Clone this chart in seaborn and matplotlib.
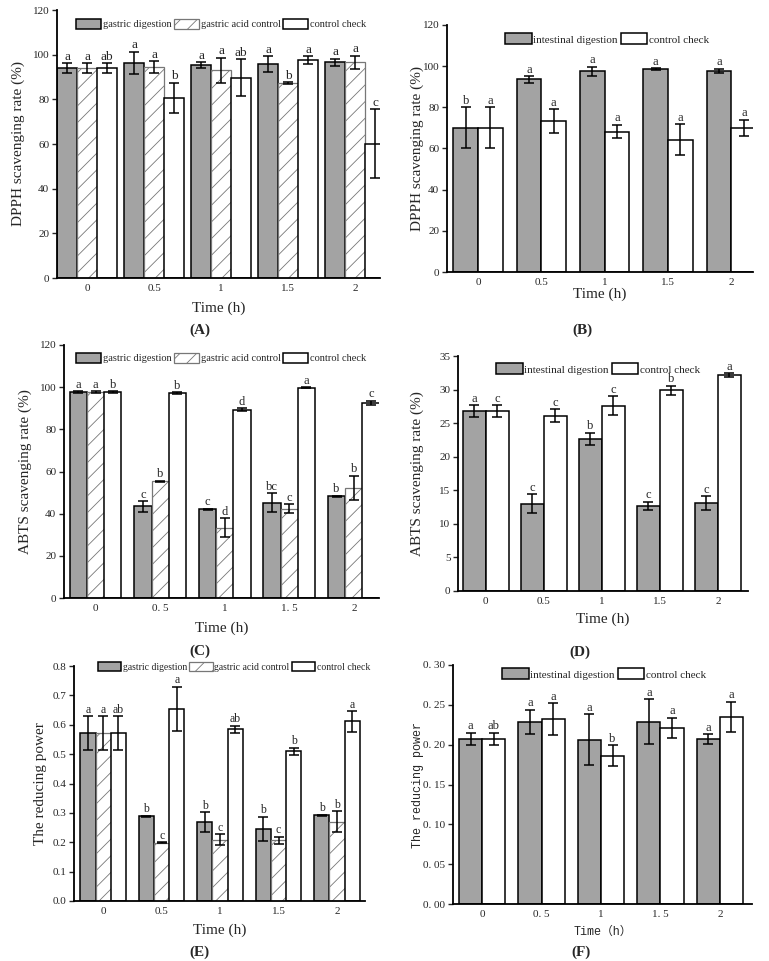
import matplotlib
matplotlib.use("Agg")
import pandas as pd
import matplotlib.pyplot as plt
import seaborn as sns

sns.set_style("ticks")
plt.rcParams["font.family"] = ["Liberation Serif", "Noto Sans CJK SC", "DejaVu Serif"]
plt.rcParams["hatch.linewidth"] = 0.6

times = ["0", "0.5", "1", "1.5", "2"]
times_cn = ["0", "0. 5", "1", "1. 5", "2"]

# (A) DPPH, gastric phase
dpph_gd = [94.0, 96.4, 95.4, 95.8, 96.6]
dpph_gd_err = [2.2, 5.0, 1.2, 3.6, 1.6]
dpph_gd_let = ["a", "a", "a", "a", "a"]
dpph_gac = [94.0, 94.4, 93.1, 87.3, 96.6]
dpph_gac_err = [2.2, 2.7, 5.6, 0.4, 3.0]
dpph_gac_let = ["a", "a", "a", "b", "a"]
dpph_cc = [94.0, 80.7, 89.7, 97.6, 60.2]
dpph_cc_err = [2.2, 6.7, 8.3, 1.8, 15.5]
dpph_cc_let = ["ab", "b", "ab", "a", "c"]

# (B) DPPH, intestinal phase
dpph_id = [70.0, 93.6, 97.5, 98.4, 97.7]
dpph_id_err = [10.0, 1.6, 2.2, 0.5, 1.0]
dpph_id_let = ["b", "a", "a", "a", "a"]
dpph_icc = [70.0, 73.4, 68.2, 64.2, 70.0]
dpph_icc_err = [10.0, 5.8, 3.3, 7.6, 4.0]
dpph_icc_let = ["a", "a", "a", "a", "a"]

# (C) ABTS, gastric phase
abts_gd = [97.7, 43.5, 42.0, 45.2, 48.3]
abts_gd_err = [0.3, 2.5, 0.4, 4.5, 0.3]
abts_gd_let = ["a", "c", "c", "bc", "b"]
abts_gac = [97.7, 55.3, 33.4, 42.4, 52.2]
abts_gac_err = [0.3, 0.4, 4.4, 2.2, 5.8]
abts_gac_let = ["a", "b", "d", "c", "b"]
abts_cc = [97.7, 97.1, 89.3, 99.8, 92.5]
abts_cc_err = [0.3, 0.5, 0.8, 0.1, 1.0]
abts_cc_let = ["b", "b", "d", "a", "c"]

# (D) ABTS, intestinal phase
abts_id = [26.8, 13.0, 22.7, 12.7, 13.1]
abts_id_err = [0.9, 1.4, 0.9, 0.6, 1.0]
abts_id_let = ["a", "c", "b", "c", "c"]
abts_icc = [26.8, 26.1, 27.6, 29.9, 32.1]
abts_icc_err = [0.9, 1.0, 1.4, 0.7, 0.3]
abts_icc_let = ["c", "c", "c", "b", "a"]

# (E) reducing power, gastric phase
rp_gd = [0.572, 0.288, 0.268, 0.245, 0.292]
rp_gd_err = [0.058, 0.002, 0.034, 0.042, 0.002]
rp_gd_let = ["a", "b", "b", "b", "b"]
rp_gac = [0.572, 0.198, 0.209, 0.206, 0.270]
rp_gac_err = [0.058, 0.002, 0.018, 0.013, 0.035]
rp_gac_let = ["a", "c", "c", "c", "b"]
rp_cc = [0.572, 0.655, 0.585, 0.510, 0.612]
rp_cc_err = [0.058, 0.075, 0.012, 0.012, 0.035]
rp_cc_let = ["ab", "a", "ab", "b", "a"]

# (F) reducing power, intestinal phase
rp_id = [0.207, 0.229, 0.206, 0.229, 0.207]
rp_id_err = [0.008, 0.015, 0.032, 0.028, 0.006]
rp_id_let = ["a", "a", "a", "a", "a"]
rp_icc = [0.207, 0.232, 0.186, 0.221, 0.235]
rp_icc_err = [0.008, 0.020, 0.013, 0.013, 0.019]
rp_icc_let = ["ab", "a", "b", "a", "a"]

gastric_names = ["gastric digestion", "gastric acid control", "control check"]
intestinal_names = ["intestinal digestion", "control check"]

GRIS = "#a3a3a3"
W, H = 769, 961
fig = plt.figure(figsize=(W / 100, H / 100), dpi=100)


def ejes(l, r, t, b):
    return fig.add_axes([l / W, 1 - b / H, (r - l) / W, (b - t) / H])


def panel(ax, rect, nombres, valores, errores, letras, ancho, xlim, ylim, yticks,
          yticklabels, xticklabels, ylabel, ley, tam_ley=8, tam_let=9,
          fuente_lab=None, tam_lab=11, xlabel="Time (h)", pos_ylabel=None, pos_xlabel=None):
    filas = []
    for nombre, vals in zip(nombres, valores):
        for t, v in zip(times, vals):
            filas.append({"time": t, "group": nombre, "value": v})
    df = pd.DataFrame(filas)
    colores = {n: "white" for n in nombres}
    colores[nombres[0]] = GRIS
    sns.barplot(data=df, x="time", y="value", hue="group", hue_order=nombres,
                palette=colores, width=ancho, errorbar=None, saturation=1,
                edgecolor="black", linewidth=1.1, legend=False, ax=ax)
    barras = list(ax.containers)
    for k, cont in enumerate(barras):
        for p in cont:
            if nombres[k] == "gastric acid control":
                p.set_hatch("//")
                p.set_edgecolor("#777777")
                p.set_linewidth(0.9)
        xs = [p.get_x() + p.get_width() / 2 for p in cont]
        ax.errorbar(xs, valores[k], yerr=errores[k], fmt="none", ecolor="black",
                    elinewidth=1.1, capsize=3.5, capthick=1.1)
        for x, v, e, s in zip(xs, valores[k], errores[k], letras[k]):
            ax.annotate(s, (x, v + e), xytext=(0, 0.3), textcoords="offset points",
                        ha="center", va="bottom", fontsize=tam_let)
    ax.set_xlim(*xlim)
    ax.set_ylim(*ylim)
    ax.set_yticks(yticks)
    ax.set_yticklabels(yticklabels, fontsize=8)
    ax.set_xticks(range(len(times)))
    ax.set_xticklabels(xticklabels, fontsize=8)
    ax.tick_params(axis="y", direction="out", length=3.5, width=1, pad=2)
    ax.tick_params(axis="x", length=0, pad=4)
    sns.despine(ax=ax)
    for s in ["left", "bottom"]:
        ax.spines[s].set_linewidth(1.3)
        ax.spines[s].set_color("black")
    l, r, t, b = rect
    ax.set_ylabel(ylabel, fontsize=tam_lab, family=fuente_lab)
    ax.set_xlabel(xlabel, fontsize=tam_lab, family=fuente_lab)
    ax.yaxis.set_label_coords((pos_ylabel - l) / (r - l), 0.5)
    ax.xaxis.set_label_coords(0.5, (b - pos_xlabel) / (b - t))
    ax.legend(handles=[c.patches[0] for c in barras], labels=nombres, ncol=len(nombres),
              frameon=False, fontsize=tam_ley, handlelength=2.4, handleheight=1.1,
              handletextpad=0.15, columnspacing=0.25, borderaxespad=0, borderpad=0,
              loc="center", bbox_to_anchor=(ley[0] / W, 1 - ley[1] / H),
              bbox_transform=fig.transFigure)


num = lambda vals, fmt: [fmt.format(v) for v in vals]

rA = (57, 380, 10, 278)
panel(ejes(*rA), rA, gastric_names, [dpph_gd, dpph_gac, dpph_cc],
      [dpph_gd_err, dpph_gac_err, dpph_cc_err], [dpph_gd_let, dpph_gac_let, dpph_cc_let],
      0.9, (-0.45, 4.37), (0, 120), range(0, 121, 20), num(range(0, 121, 20), "{}"),
      times, "DPPH scavenging rate (%)", (221, 24), tam_ley=7.5, tam_let=9.5,
      pos_ylabel=25, pos_xlabel=302)

rB = (447, 753, 25, 272)
panel(ejes(*rB), rB, intestinal_names, [dpph_id, dpph_icc], [dpph_id_err, dpph_icc_err],
      [dpph_id_let, dpph_icc_let], 0.78, (-0.49, 4.34), (0, 120), range(0, 121, 20),
      num(range(0, 121, 20), "{}"), times, "DPPH scavenging rate (%)", (607, 39),
      pos_ylabel=424, pos_xlabel=288)

rC = (64, 379, 345, 598)
panel(ejes(*rC), rC, gastric_names, [abts_gd, abts_gac, abts_cc],
      [abts_gd_err, abts_gac_err, abts_cc_err], [abts_gd_let, abts_gac_let, abts_cc_let],
      0.8, (-0.49, 4.39), (0, 120), range(0, 121, 20), num(range(0, 121, 20), "{}"),
      times_cn, "ABTS scavenging rate (%)", (221, 358), tam_ley=7.5,
      pos_ylabel=32, pos_xlabel=622)

rD = (458, 748, 356, 591)
panel(ejes(*rD), rD, intestinal_names, [abts_id, abts_icc], [abts_id_err, abts_icc_err],
      [abts_id_let, abts_icc_let], 0.8, (-0.48, 4.52), (0, 35), range(0, 36, 5),
      num(range(0, 36, 5), "{}"), times, "ABTS scavenging rate (%)", (598, 369),
      pos_ylabel=424, pos_xlabel=613)

rE = (74, 365, 666, 901)
e_ticks = [i / 10 for i in range(9)]
panel(ejes(*rE), rE, gastric_names, [rp_gd, rp_gac, rp_cc],
      [rp_gd_err, rp_gac_err, rp_cc_err], [rp_gd_let, rp_gac_let, rp_cc_let],
      0.78, (-0.5, 4.48), (0, 0.8), e_ticks, num(e_ticks, "{:.1f}"), times,
      "The reducing power", (234, 667), tam_ley=7, tam_let=8.5,
      pos_ylabel=47, pos_xlabel=924)

rF = (453, 752, 665, 904)
f_ticks = [i / 100 for i in range(0, 31, 5)]
panel(ejes(*rF), rF, intestinal_names, [rp_id, rp_icc], [rp_id_err, rp_icc_err],
      [rp_id_let, rp_icc_let], 0.78, (-0.49, 4.54), (0, 0.30), f_ticks,
      [s.replace(".", ". ") for s in num(f_ticks, "{:.2f}")], times_cn,
      "The reducing power", (604, 674),
      fuente_lab=["Liberation Mono", "Noto Sans CJK SC"], tam_lab=8.5,
      xlabel="Time（h）", pos_ylabel=424, pos_xlabel=926)

for texto, x, y in [("(A)", 200, 330), ("(B)", 582, 330), ("(C)", 200, 651),
                    ("(D)", 580, 652), ("(E)", 199, 952), ("(F)", 581, 952)]:
    fig.text(x / W, 1 - y / H, texto, ha="center", va="center", fontsize=11,
             fontweight="bold")

fig.savefig("out.png", dpi=100)
plt.close(fig)
